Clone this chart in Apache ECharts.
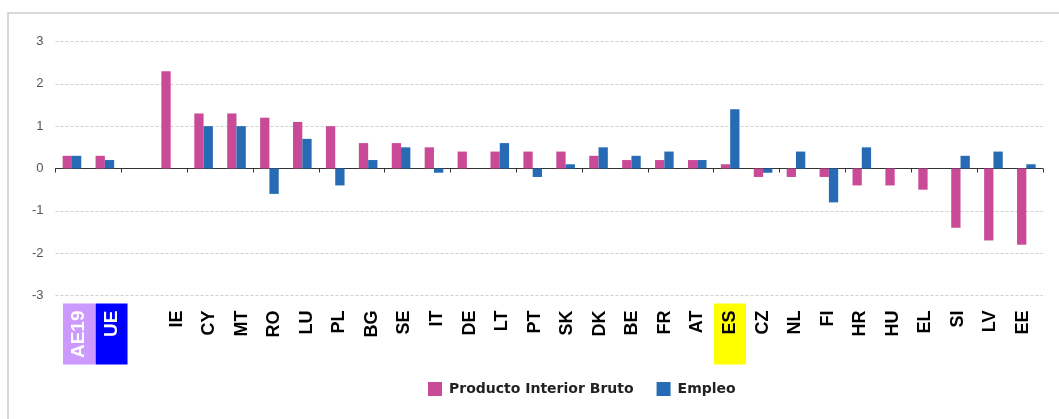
<!DOCTYPE html>
<html>
<head>
<meta charset="utf-8">
<script src="https://cdn.jsdelivr.net/npm/echarts@6/dist/echarts.min.js"></script>
<style>
html,body{margin:0;padding:0;background:#fff;}
#chart{width:1059px;height:419px;}
</style>
</head>
<body>
<div id="chart"></div>
<script>
// ---- data ----
const categories = ['AE19','UE','','IE','CY','MT','RO','LU','PL','BG','SE','IT','DE','LT','PT','SK','DK','BE','FR','AT','ES','CZ','NL','FI','HR','HU','EL','SI','LV','EE'];
const pibValues = [0.3,0.3,null,2.3,1.3,1.3,1.2,1.1,1.0,0.6,0.6,0.5,0.4,0.4,0.4,0.4,0.3,0.2,0.2,0.2,0.1,-0.2,-0.2,-0.2,-0.4,-0.4,-0.5,-1.4,-1.7,-1.8];
const empleoValues = [0.3,0.2,null,0,1.0,1.0,-0.6,0.7,-0.4,0.2,0.5,-0.1,0,0.6,-0.2,0.1,0.5,0.3,0.4,0.2,1.4,-0.1,0.4,-0.8,0.5,0,0,0.3,0.4,0.1];
const seriesNames = ['Producto Interior Bruto','Empleo'];
const yMin = -3, yMax = 3, yInterval = 1;

// ---- styles ----
const FONT = '"Liberation Sans", Arial, sans-serif';
const labelStyleKey = {AE19:'ae', UE:'ue', ES:'es'};
const boxBase = {width:54, height:32, lineHeight:32, align:'right', padding:[0,7,0,0], fontFamily:FONT, fontSize:18, fontWeight:'bold'};

const chart = echarts.init(document.getElementById('chart'), null, {renderer:'canvas'});
chart.setOption({
  animation:false,
  backgroundColor:'#fff',
  graphic:[{
    type:'rect', shape:{x:8, y:13, width:1200, height:600},
    style:{fill:'none', stroke:'#d9d9d9', lineWidth:2}, silent:true
  }],
  legend:{
    left:423, top:377, itemWidth:14, itemHeight:14, itemGap:23, icon:'rect',
    textStyle:{fontFamily:'"DejaVu Sans", sans-serif', fontSize:14, fontWeight:'bold', color:'#222', padding:[0,0,0,2]},
    data:seriesNames
  },
  grid:[
    {left:55.5, right:16.2, top:41.5, bottom:123.5},
    {left:62.7, right:19.7, top:41.5, bottom:123.5}
  ],
  xAxis:[
    {type:'category', gridIndex:0, data:categories, boundaryGap:true,
     axisLine:{onZero:true, lineStyle:{color:'#333', width:1}},
     axisTick:{show:true, length:4, lineStyle:{color:'#333'}},
     axisLabel:{show:false}, splitLine:{show:false}},
    {type:'category', gridIndex:1, data:categories, position:'bottom',
     axisLine:{show:false, onZero:false}, axisTick:{show:false},
     axisLabel:{show:true, interval:0, rotate:90, margin:8,
       formatter:function(v){ const k = labelStyleKey[v] || 'n'; return v ? '{'+k+'|'+v+'}' : ''; },
       rich:{
         n:Object.assign({}, boxBase, {color:'#000'}),
         ae:Object.assign({}, boxBase, {color:'#fff', backgroundColor:'#cc99ff', fontSize:19}),
         ue:Object.assign({}, boxBase, {color:'#fff', backgroundColor:'#0000ff', fontSize:19}),
         es:Object.assign({}, boxBase, {color:'#000', backgroundColor:'#ffff00'})
       }}}
  ],
  yAxis:[
    {type:'value', gridIndex:0, min:yMin, max:yMax, interval:yInterval,
     axisLine:{show:false}, axisTick:{show:false},
     axisLabel:{color:'#555', fontFamily:FONT, fontSize:13, margin:12},
     splitLine:{show:true, lineStyle:{color:'#cfcfcf', type:[3,2], width:1}}},
    {type:'value', gridIndex:1, min:yMin, max:yMax, show:false}
  ],
  series:[
    {name:seriesNames[0], type:'bar', xAxisIndex:0, yAxisIndex:0, data:pibValues,
     barWidth:9.3, barGap:'0%', itemStyle:{color:'#c94b97'}},
    {name:seriesNames[1], type:'bar', xAxisIndex:0, yAxisIndex:0, data:empleoValues,
     barWidth:9.3, barGap:'0%', itemStyle:{color:'#266bb3'}}
  ]
});
</script>
</body>
</html>
